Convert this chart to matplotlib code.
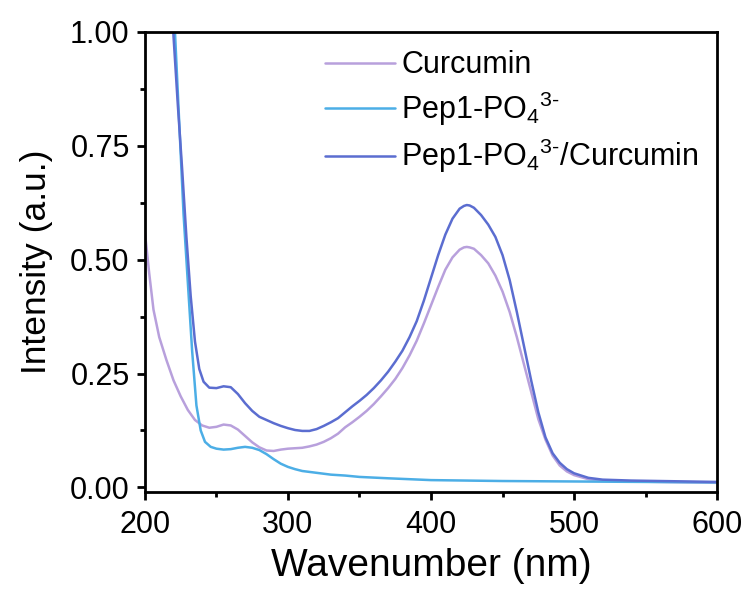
import numpy as np
import matplotlib.pyplot as plt
from matplotlib.ticker import MultipleLocator

plt.rcParams['font.family'] = ['Liberation Sans', 'DejaVu Sans']
plt.rcParams['mathtext.fontset'] = 'custom'
plt.rcParams['mathtext.rm'] = 'Liberation Sans'
plt.rcParams['mathtext.it'] = 'Liberation Sans:italic'

# Curcumin
cur_x = [200, 203, 206, 210, 215, 220, 225, 230, 235, 240, 245, 250, 255, 260, 265, 270,
         275, 280, 285, 290, 295, 300, 305, 310, 315, 320, 325, 330, 335, 340, 345, 350,
         355, 360, 365, 370, 375, 380, 385, 390, 395, 400, 405, 410, 415, 420, 423, 425, 427,
         430, 435, 440, 445, 450, 455, 460, 465, 470, 475, 480, 485, 490, 495, 500, 510, 520,
         540, 560, 580, 600]
cur_y = [0.56, 0.47, 0.39, 0.33, 0.28, 0.235, 0.20, 0.17, 0.148, 0.136, 0.131, 0.133, 0.138,
         0.136, 0.127, 0.113, 0.099, 0.088, 0.081, 0.080, 0.083, 0.085, 0.086, 0.087, 0.090,
         0.094, 0.100, 0.108, 0.118, 0.132, 0.143, 0.155, 0.168, 0.183, 0.20, 0.218, 0.238,
         0.262, 0.29, 0.322, 0.36, 0.40, 0.44, 0.478, 0.505, 0.522, 0.527, 0.528, 0.527,
         0.524, 0.51, 0.492, 0.465, 0.43, 0.385, 0.33, 0.27, 0.21, 0.15, 0.105, 0.07, 0.048,
         0.035, 0.027, 0.018, 0.015, 0.013, 0.012, 0.011, 0.010]

# Pep1-PO4
pep_x = [215, 221, 224, 227, 230, 233, 236, 239, 242, 246, 250, 255, 260, 265, 270, 275,
         280, 285, 290, 295, 300, 305, 310, 320, 330, 340, 350, 370, 400, 450, 500, 550, 600]
pep_y = [1.32, 1.00, 0.80, 0.60, 0.45, 0.30, 0.18, 0.125, 0.100, 0.089, 0.085, 0.083, 0.084,
         0.087, 0.089, 0.087, 0.082, 0.073, 0.062, 0.052, 0.045, 0.040, 0.036, 0.032, 0.028,
         0.026, 0.023, 0.020, 0.016, 0.014, 0.013, 0.012, 0.011]

# Pep1-PO4/Curcumin
mix_x = [215, 220, 223, 226, 229, 232, 235, 238, 241, 245, 250, 255, 260, 265, 270, 275,
         280, 285, 290, 295, 300, 305, 310, 315, 320, 325, 330, 335, 340, 345, 350, 355,
         360, 365, 370, 375, 380, 385, 390, 395, 400, 405, 410, 415, 420, 423, 425, 427, 430,
         435, 440, 445, 450, 455, 460, 465, 470, 475, 480, 485, 490, 495, 500, 510, 520, 540,
         560, 580, 600]
mix_y = [1.30, 0.99, 0.84, 0.70, 0.55, 0.42, 0.32, 0.26, 0.232, 0.219, 0.218, 0.222, 0.220,
         0.205, 0.185, 0.168, 0.155, 0.148, 0.141, 0.135, 0.130, 0.126, 0.124, 0.124, 0.128,
         0.135, 0.143, 0.152, 0.165, 0.178, 0.190, 0.203, 0.218, 0.235, 0.254, 0.276, 0.30,
         0.33, 0.365, 0.41, 0.46, 0.51, 0.555, 0.59, 0.612, 0.618, 0.62, 0.619, 0.614, 0.598,
         0.577, 0.55, 0.51, 0.455, 0.385, 0.31, 0.235, 0.165, 0.11, 0.075, 0.054, 0.040,
         0.031, 0.021, 0.017, 0.015, 0.014, 0.013, 0.012]

fig = plt.figure(figsize=(7.47, 5.92), dpi=100)
ax = fig.add_axes([0.194, 0.169, 0.766, 0.777])

style = dict(lw=1.8, solid_joinstyle='round', solid_capstyle='round')
ax.plot(cur_x, cur_y, color='#b8a0dc', label='Curcumin', **style)
ax.plot(pep_x, pep_y, color='#4caee6', label=r'Pep1-PO$_4$$^{3\text{-}}$', **style)
ax.plot(mix_x, mix_y, color='#5b6dd0', label=r'Pep1-PO$_4$$^{3\text{-}}$/Curcumin', **style)

ax.set_xlim(200, 600)
ax.set_ylim(-0.01, 1.0)
ax.xaxis.set_major_locator(MultipleLocator(100))
ax.xaxis.set_minor_locator(MultipleLocator(50))
ax.yaxis.set_major_locator(MultipleLocator(0.25))
ax.yaxis.set_minor_locator(MultipleLocator(0.125))
ax.yaxis.set_major_formatter(plt.FormatStrFormatter('%.2f'))

for s in ax.spines.values():
    s.set_linewidth(2)
ax.tick_params(which='major', direction='out', length=6, width=2, labelsize=22, pad=5)
ax.tick_params(axis='x', which='major', pad=7)
ax.tick_params(which='minor', direction='out', length=3.5, width=2)

ax.set_xlabel('Wavenumber (nm)', fontsize=28, labelpad=6)
ax.set_ylabel('Intensity (a.u.)', fontsize=25.5, labelpad=12)

ax.legend(loc='upper right', frameon=False, fontsize=22, handlelength=2.3,
          handletextpad=0.2, labelspacing=0.3, borderaxespad=0.2)

plt.savefig('out.png', dpi=100)
